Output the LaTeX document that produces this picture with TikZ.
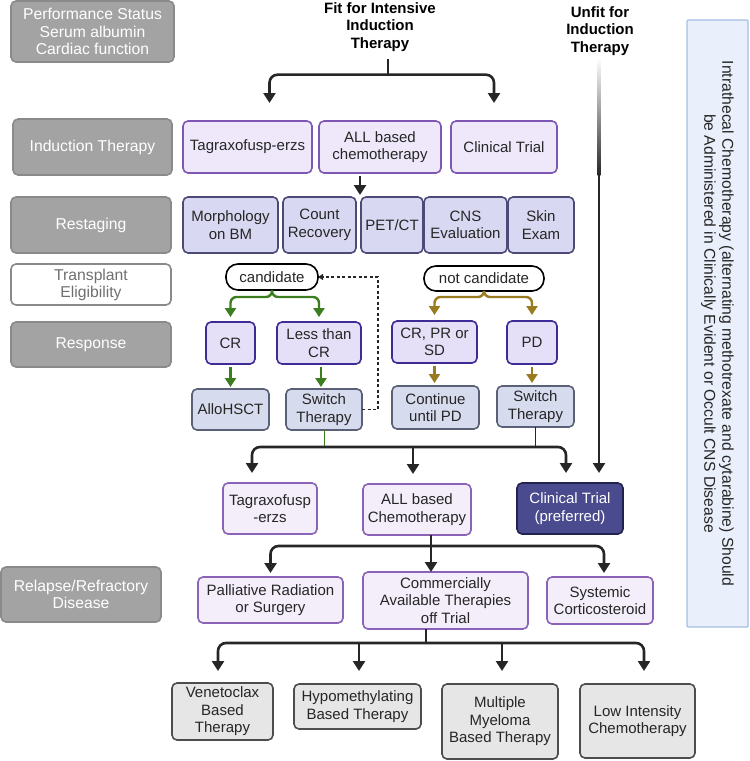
\documentclass[tikz,border=0pt]{standalone}
\usepackage{fontspec}
\setmainfont{Liberation Sans}
\usetikzlibrary{arrows.meta}
\definecolor{ink}{HTML}{262626}
\definecolor{lgfill}{HTML}{A3A3A3}
\definecolor{lgborder}{HTML}{8A8A8A}
\definecolor{lgtext}{HTML}{707070}
\definecolor{pfill}{HTML}{EFE8FA}
\definecolor{pborder}{HTML}{7E57B5}
\definecolor{rfill}{HTML}{D9D8F2}
\definecolor{rborder}{HTML}{4D4A78}
\definecolor{cfill}{HTML}{E5E0F7}
\definecolor{cborder}{HTML}{3F2A96}
\definecolor{sfill}{HTML}{D7DBEE}
\definecolor{sborder}{HTML}{5A6075}
\definecolor{p2fill}{HTML}{F4EEFB}
\definecolor{p2border}{HTML}{8A63B8}
\definecolor{ctfill}{HTML}{4A4A8E}
\definecolor{ctborder}{HTML}{232350}
\definecolor{gfill}{HTML}{E6E6E6}
\definecolor{gborder}{HTML}{4D4D4D}
\definecolor{ifill}{HTML}{E9EFFB}
\definecolor{iborder}{HTML}{A6BFE3}
\definecolor{grn}{HTML}{3B7D1F}
\definecolor{gold}{HTML}{9B7B22}
\newcommand\mkbox[7]{\node[#1, minimum width={(#5)-(#3)}, minimum height={(#6)-(#4)}] (#2) at ({((#3)+(#5))/2},{((#4)+(#6))/2}) {#7};}
\begin{document}
\begin{tikzpicture}[x=1pt,y=-1pt,
  basebox/.style={draw, rounded corners=5pt, line width=1.6pt, inner sep=0pt, outer sep=0pt, align=center, text=ink, font=\fontsize{15}{17.5}\selectfont},
  lbl/.style={basebox, fill=lgfill, draw=lgborder, text=white, font=\fontsize{15.7}{17.5}\selectfont},
  lblw/.style={basebox, fill=white, draw=lgborder, text=lgtext, font=\fontsize{15.7}{17}\selectfont},
  pbox/.style={basebox, fill=pfill, draw=pborder},
  rbox/.style={basebox, fill=rfill, draw=rborder},
  cbox/.style={basebox, fill=cfill, draw=cborder},
  sbox/.style={basebox, fill=sfill, draw=sborder},
  ptwo/.style={basebox, fill=p2fill, draw=p2border},
  ctbox/.style={basebox, fill=ctfill, draw=ctborder, text=white},
  gbox/.style={basebox, fill=gfill, draw=gborder},
  pill/.style={basebox, fill=white, draw=black, rounded corners=12pt},
  ttl/.style={align=center, inner sep=0pt, text=black, font=\bfseries\fontsize{15}{17.5}\selectfont},
  arr/.style={draw=ink, line width=2.6pt, rounded corners=8pt, -{Triangle[width=12pt,length=10pt]}},
  stem/.style={draw=ink, line width=2.6pt},
  garr/.style={draw=grn, line width=2.4pt, rounded corners=6pt, -{Triangle[width=11pt,length=9pt]}},
  oarr/.style={draw=gold, line width=2.4pt, rounded corners=6pt, -{Triangle[width=11pt,length=9pt]}},
  darr/.style={draw=ink, line width=1.3pt, dash pattern=on 3pt off 2.5pt, -{Triangle[width=6pt,length=5pt]}}
]
\useasboundingbox (0,0) rectangle (750,761);

% left labels
\mkbox{lbl}{L1}{11}{1}{174}{62}{Performance Status\\Serum albumin\\Cardiac function}
\mkbox{lbl}{L2}{13}{119}{172}{175}{Induction Therapy}
\mkbox{lbl}{L3}{11}{197}{171}{253}{Restaging}
\mkbox{lblw}{L4}{11}{264}{171}{305}{Transplant\\Eligibility}
\mkbox{lbl}{L5}{11}{322}{171}{367}{Response}
\mkbox{lbl}{L6}{1}{567}{161}{622}{Relapse/Refractory\\Disease}

% titles
\node[ttl] (fit) at (380,27) {Fit for Intensive\\Induction\\Therapy};
\node[ttl] (unfit) at (600,31) {Unfit for\\Induction\\Therapy};

% induction
\mkbox{pbox}{tag1}{183}{121}{312}{173}{Tagraxofusp-erzs}
\mkbox{pbox}{all1}{319}{121}{441}{173}{ALL based\\chemotherapy}
\mkbox{pbox}{ct1}{451}{121}{557}{173}{Clinical Trial}

% restaging
\mkbox{rbox}{morph}{183}{197}{278}{253}{Morphology\\on BM}
\mkbox{rbox}{count}{283}{197}{356}{253}{Count\\Recovery}
\mkbox{rbox}{pet}{361}{197}{423}{253}{PET/CT}
\mkbox{rbox}{cns}{424}{197}{507}{253}{CNS\\Evaluation}
\mkbox{rbox}{skin}{508}{197}{574}{253}{Skin\\Exam}

% eligibility
\mkbox{pill}{cand}{226}{264}{318}{290}{candidate}
\mkbox{pill}{notc}{424}{266}{544}{291}{not candidate}

% response
\mkbox{cbox}{CR}{206}{322}{255}{364}{CR}
\mkbox{cbox}{less}{277}{322}{361}{364}{Less than\\CR}
\mkbox{cbox}{crpr}{392}{321}{477}{363}{CR, PR or\\SD}
\mkbox{cbox}{pd}{507}{321}{557}{364}{PD}

\mkbox{sbox}{allo}{192}{389}{269}{430}{AlloHSCT}
\mkbox{sbox}{swL}{286}{389}{362}{430}{Switch\\Therapy}
\mkbox{sbox}{cont}{392}{386}{479}{429}{Continue\\until PD}
\mkbox{sbox}{swR}{497}{386}{574}{427}{Switch\\Therapy}

% second line
\mkbox{ptwo}{tag2}{223}{483}{317}{534}{Tagraxofusp\\-erzs}
\mkbox{ptwo}{all2}{363}{484}{471}{535}{ALL based\\Chemotherapy}
\mkbox{ctbox}{ctp}{517}{483}{623}{534}{Clinical Trial\\(preferred)}

% relapse
\mkbox{ptwo}{pall}{198}{577}{343}{623}{Palliative Radiation\\or Surgery}
\mkbox{ptwo}{comm}{363}{572}{528}{629}{Commercially\\Available Therapies\\off Trial}
\mkbox{ptwo}{sys}{547}{577}{653}{624}{Systemic\\Corticosteroid}

% bottom
\mkbox{gbox}{ven}{172}{683}{273}{740}{Venetoclax\\Based\\Therapy}
\mkbox{gbox}{hypo}{294}{684}{421}{729}{Hypomethylating\\Based Therapy}
\mkbox{gbox}{mm}{442}{684}{558}{759}{Multiple\\Myeloma\\Based Therapy}
\mkbox{gbox}{low}{580}{684}{695}{758}{Low Intensity\\Chemotherapy}

% intrathecal
\node[basebox, fill=ifill, draw=iborder, line width=1.4pt, rounded corners=1pt, rotate=-90, minimum width=607, minimum height=61, font=\fontsize{15.7}{18}\selectfont] (itb) at (717.5,323.5) {Intrathecal Chemotherapy (alternating methotrexate and cytarabine) Should\\be Administered in Clinically Evident or Occult CNS Disease};

% top bracket
\draw[stem] ([xshift=8pt,yshift=-7pt]fit.south) -- ++(0,16) coordinate (fh);
\draw[arr] (fh) -| ([xshift=22pt,yshift=18pt]tag1.north);
\draw[arr] (fh) -| ([xshift=-10pt,yshift=18pt]ct1.north);

% induction to restaging
\draw[arr] ([xshift=-20pt,yshift=-3pt]all1.south) -- ([xshift=-20pt,yshift=2pt]all1.south |- pet.north);

% green
\draw[garr] (cand.south) -- ++(0,7) -| ([yshift=5pt]CR.north);
\draw[garr] (cand.south) -- ++(0,7) -| ([yshift=5pt]less.north);
\draw[garr] ([yshift=-3pt]CR.south) -- ([yshift=2pt]allo.north);
\draw[garr] ([xshift=2pt,yshift=-3pt]less.south) -- ([xshift=2pt,yshift=2pt]less.south |- swL.north);

% gold
\draw[oarr] (notc.south) -- ++(0,6) -| ([yshift=6pt]crpr.north);
\draw[oarr] (notc.south) -- ++(0,6) -| ([yshift=6pt]pd.north);
\draw[oarr] ([yshift=-3pt]crpr.south) -- ([yshift=3pt]crpr.south |- cont.north);
\draw[oarr] ([yshift=-3pt]pd.south) -- ([yshift=3pt]pd.south |- swR.north);

% dashed back to candidate
\draw[darr] (swL.east) -- ++(16,0) |- (cand.east);

% main bracket
\coordinate (j1) at (413,447);
\draw[draw=grn, line width=1pt] (swL.south) -- (swL.south |- j1);
\draw[draw=ink, line width=1.2pt] (swR.south) -- (swR.south |- j1);
\draw[arr] (j1) -| ([xshift=-18pt,yshift=10pt]tag2.north);
\draw[arr] (j1) -| ([xshift=-4pt,yshift=10pt]ctp.north);
\draw[arr] ([xshift=-4pt]all2.north |- j1) -- ([xshift=-4pt,yshift=10pt]all2.north);

% unfit line
\shade[top color=white, bottom color=ink] (597.7,58) rectangle (600.3,175);
\coordinate (u1) at (599,174);
\draw[arr] (u1) -- ([yshift=10pt]u1 |- ctp.north);

% second bracket
\draw[stem] ([xshift=14pt]all2.south) -- ++(0,11) coordinate (j2);
\draw[arr] (j2) -| ([yshift=4pt]pall.north);
\draw[arr] (j2) -- (j2 |- comm.north);
\draw[arr] (j2) -| ([xshift=4pt,yshift=4pt]sys.north);

% third bracket
\draw[stem] ([xshift=-19.5pt]comm.south) -- ++(0,14) coordinate (j3);
\draw[arr] (j3) -| ([xshift=-4.5pt,yshift=12pt]ven.north);
\draw[arr] ([xshift=1.5pt]hypo.north |- j3) -- ([xshift=1.5pt,yshift=13pt]hypo.north);
\draw[arr] ([xshift=2pt]mm.north |- j3) -- ([xshift=2pt,yshift=13pt]mm.north);
\draw[arr] (j3) -| ([xshift=6.5pt,yshift=13pt]low.north);
\end{tikzpicture}
\end{document}
